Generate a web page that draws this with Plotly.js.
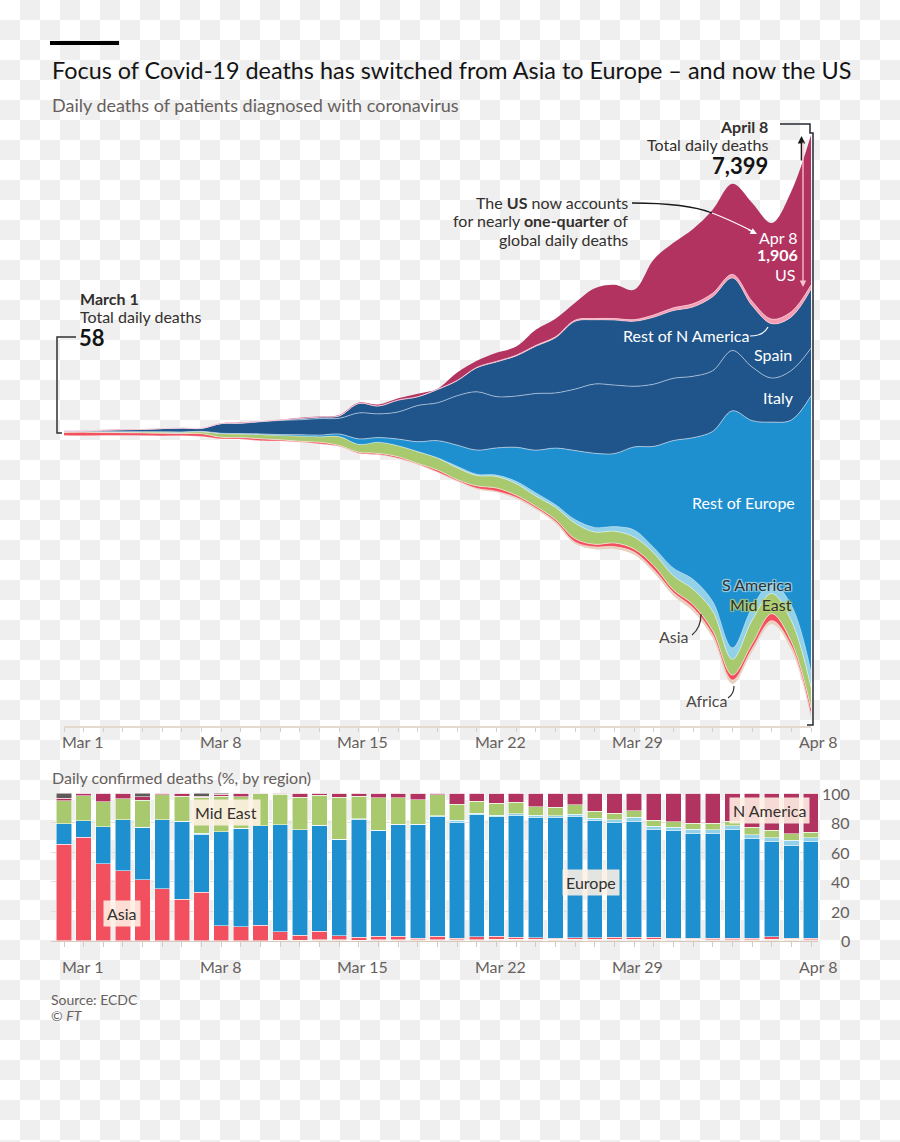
<!DOCTYPE html>
<html><head><meta charset="utf-8">
<script src="https://cdn.plot.ly/plotly-3.0.1.min.js"></script>
<style>
html,body{margin:0;padding:0;}
body{width:900px;height:1142px;background-color:#fff;background-image:conic-gradient(#efefef 0 25%, #fff 0 50%, #efefef 0 75%, #fff 0);background-size:40px 40px;}
#chart{width:900px;height:1142px;}
</style></head><body><div id="chart"></div><script>
// ---------------- DATA (daily deaths) ----------------
const dates = ['2020-03-01','2020-03-02','2020-03-03','2020-03-04','2020-03-05','2020-03-06','2020-03-07','2020-03-08','2020-03-09','2020-03-10',
  '2020-03-11','2020-03-12','2020-03-13','2020-03-14','2020-03-15','2020-03-16','2020-03-17','2020-03-18','2020-03-19','2020-03-20',
  '2020-03-21','2020-03-22','2020-03-23','2020-03-24','2020-03-25','2020-03-26','2020-03-27','2020-03-28','2020-03-29','2020-03-30',
  '2020-03-31','2020-04-01','2020-04-02','2020-04-03','2020-04-04','2020-04-05','2020-04-06','2020-04-07','2020-04-08'];
const us         = [1,1,4,3,2,1,2,1,3,5,1,2,8,5,10,11,18,22,37,8,100,85,110,110,200,230,220,385,430,380,705,825,950,1060,1150,1250,1220,1530,1906];
const restNAm    = [0,0,0,0,0,0,0,0,0,0,0,0,0,0,1,1,1,1,2,1,4,5,7,8,10,12,15,15,19,20,28,34,40,44,45,55,57,65,50];
const spain      = [0,0,0,0,0,0,0,3,3,4,5,6,17,20,30,120,100,150,110,170,190,305,440,510,600,700,860,815,825,825,850,860,880,940,920,780,690,680,750];
const italy      = [8,6,18,27,28,41,49,36,122,130,155,180,189,210,200,330,300,345,460,480,627,740,651,650,720,700,780,880,870,770,790,790,780,770,766,681,560,630,604];
const restEurope = [0,1,0,0,1,3,4,3,3,5,8,10,16,21,32,69,59,83,124,216,267,305,343,431,540,717,876,940,926,1053,1282,1618,1796,2157,3008,2373,2043,2348,3499];
const sAmerica   = [0,0,0,0,0,0,0,1,0,0,0,0,0,0,0,1,1,2,3,5,21,18,19,30,41,35,46,59,59,90,70,99,127,126,145,163,133,199,200];
const midEast    = [9,11,12,11,15,16,17,26,48,44,54,56,68,71,113,101,142,139,150,152,150,131,147,147,130,154,197,156,149,151,160,177,194,246,200,300,255,264,265];
const asia       = [38,45,37,37,34,33,28,35,20,20,26,15,10,20,11,13,15,19,8,24,15,30,40,27,22,25,40,32,45,40,50,34,42,50,63,56,88,53,80];
const africa     = [0,0,0,0,0,0,0,0,0,0,0,1,1,2,2,3,4,5,6,8,10,12,15,18,20,22,25,30,32,35,38,40,42,44,50,44,44,52,45];
const other      = [2,0,0,0,2,0,0,2,1,0,0,0,0,0,0,0,0,0,0,0,0,0,0,0,0,0,0,0,0,0,0,0,0,0,0,0,0,0,0];
const tickDates  = ['2020-03-01','2020-03-08','2020-03-15','2020-03-22','2020-03-29','2020-04-08'];
const tickLabels = ['Mar 1','Mar 8','Mar 15','Mar 22','Mar 29','Apr 8'];
const pctTicks   = [0,20,40,60,80,100];

// ---------------- helpers ----------------
const W = 900, H = 1142, FONT = 'Lato, "Noto Sans", sans-serif';
const px = x => x / W, py = y => 1 - y / H;
const P = (x, y) => `${px(x)},${py(y)}`;
const DAY = 86400000, t0 = Date.parse(dates[0] + 'T00:00:00Z');
const X0 = 64, XN = 811, PXDAY = (XN - X0) / (dates.length - 1);
const fmt = ms => new Date(ms).toISOString().replace('T', ' ').replace('Z', '');
const dateAtPx = x => fmt(t0 + (x - X0) / PXDAY * DAY);

// stream layers, bottom to top
const stream = [
  {v: other, c: '#5e5a57', l: 'rgba(0,0,0,0)'},
  {v: africa, c: '#e8d0bd', l: 'rgba(255,255,255,0.4)'},
  {v: asia, c: '#f2505e', l: 'rgba(255,235,235,0.7)'},
  {v: midEast, c: '#a9c96e', l: 'rgba(255,255,255,0.5)'},
  {v: sAmerica, c: '#92d1e8', l: 'rgba(255,255,255,0.3)'},
  {v: restEurope, c: '#1e8fcf', l: 'rgba(210,225,240,0.75)'},
  {v: italy, c: '#20558b', l: 'rgba(200,215,235,0.75)'},
  {v: spain, c: '#20558b', l: 'rgba(255,220,230,0.6)'},
  {v: restNAm, c: '#f59db3', l: 'rgba(255,210,220,0.9)'},
  {v: us, c: '#b23360', l: 'rgba(0,0,0,0)'}
];
// d3-style "wiggle" stream offset
function wiggle(layers) {
  const n = layers.length, m = layers[0].length, base = [0];
  let y = 0;
  for (let j = 1; j < m; j++) {
    let s1 = 0, s2 = 0;
    for (let i = 0; i < n; i++) {
      const a = layers[i][j], b = layers[i][j - 1];
      let s3 = (a - b) / 2;
      for (let k = 0; k < i; k++) s3 += layers[k][j] - layers[k][j - 1];
      s1 += a; s2 += s3 * a;
    }
    if (s1) y -= s2 / s1;
    base.push(y);
  }
  return base;
}
const base = wiggle(stream.map(s => s.v));
const traces = [{x: dates, y: base.slice(), type: 'scatter', mode: 'lines', line: {width: 0, shape: 'spline', smoothing: 1}, hoverinfo: 'skip', xaxis: 'x', yaxis: 'y'}];
let cum = base.slice();
stream.forEach(s => {
  cum = cum.map((v, i) => v + s.v[i]);
  traces.push({x: dates, y: cum.slice(), type: 'scatter', mode: 'lines', fill: 'tonexty', fillcolor: s.c,
    line: {width: 0.9, color: s.l, shape: 'spline', smoothing: 1}, hoverinfo: 'skip', xaxis: 'x', yaxis: 'y'});
});
const last = dates.length - 1;
const total = cum[last] - base[last];
const SC = total / (718 - 135);              // deaths per pixel
const yAt = p => base[last] + (718 - p) * SC;  // bottom of last day at 718px

// bars
const europe = italy.map((v, i) => v + spain[i] + restEurope[i]);
const nAmerica = us.map((v, i) => v + restNAm[i]);
[[africa, '#e8d0bd'], [asia, '#f2505e'], [europe, '#1e8fcf'], [sAmerica, '#92d1e8'],
 [midEast, '#a9c96e'], [nAmerica, '#b23360'], [other, '#5e5a57']].forEach(([v, c]) => {
  traces.push({x: dates, y: v, type: 'bar', xaxis: 'x2', yaxis: 'y2', hoverinfo: 'skip',
    marker: {color: c, line: {width: 0.7, color: 'rgba(255,255,255,0.75)'}}});
});

// ---------------- annotations ----------------
const dark = '#33302e', grey = '#66605c';
const A = [];
function txt(text, x, y, o = {}) {
  A.push(Object.assign({xref: 'paper', yref: 'paper', x: px(x), y: py(y), text, showarrow: false,
    xanchor: 'left', yanchor: 'middle', font: {family: FONT, size: 16, color: dark}}, o));
}
txt('Focus of Covid-19 deaths has switched from Asia to Europe \u2013 and now the US', 50, 70, {font: {family: FONT, size: 23.4, color: '#141414'}});
txt('Daily deaths of patients diagnosed with coronavirus', 50, 105, {font: {family: FONT, size: 18, color: grey}});
txt('<b>March 1</b>', 78, 298);
txt('Total daily deaths', 78, 316);
txt('<b>58</b>', 77, 337, {font: {family: FONT, size: 22, color: '#141414'}});
txt('<b>April 8</b>', 770, 126, {xanchor: 'right'});
txt('Total daily deaths', 770, 144, {xanchor: 'right'});
txt('<b>7,399</b>', 770, 166, {xanchor: 'right', font: {family: FONT, size: 22, color: '#141414'}});
txt('The <b>US</b> now accounts', 630, 202, {xanchor: 'right'});
txt('for nearly <b>one-quarter</b> of', 630, 221, {xanchor: 'right'});
txt('global daily deaths', 630, 239, {xanchor: 'right'});
const white = {family: FONT, size: 16, color: '#ffffff'};
txt('Apr 8', 800, 237, {xanchor: 'right', font: white});
txt('<b>1,906</b>', 800, 255, {xanchor: 'right', font: white});
txt('US', 797, 275, {xanchor: 'right', font: white});
txt('Rest of N America', 686, 335, {xanchor: 'center', font: white});
txt('Spain', 794, 354, {xanchor: 'right', font: white});
txt('Italy', 796, 398, {xanchor: 'right', font: white});
txt('Rest of Europe', 797, 502, {xanchor: 'right', font: white});
const glow = c => `1px 1px 1px ${c}, -1px -1px 1px ${c}, 1px -1px 1px ${c}, -1px 1px 1px ${c}`;
txt('S America', 794, 584, {xanchor: 'right', font: {family: FONT, size: 16, color: dark, shadow: glow('#9ad6ec')}});
txt('Mid East', 794, 604, {xanchor: 'right', font: {family: FONT, size: 16, color: dark, shadow: glow('#b5d37a')}});
txt('Asia', 691, 636, {xanchor: 'right', font: {family: FONT, size: 16, color: '#4e4946'}});
txt('Africa', 729, 700, {xanchor: 'right', font: {family: FONT, size: 16, color: '#4e4946'}});
// axis tick labels
tickDates.forEach((d, i) => {
  const isLast = i === tickDates.length - 1;
  [['x', 741], ['x2', 966]].forEach(([xr, yy]) => {
    A.push({xref: xr, yref: 'paper', x: d, y: py(yy), text: tickLabels[i], showarrow: false,
      xanchor: isLast ? 'center' : 'left', xshift: isLast ? 7 : -4, yanchor: 'middle',
      font: {family: FONT, size: 16, color: grey}});
  });
});
pctTicks.forEach(v => A.push({xref: 'paper', yref: 'y2', x: px(852), y: v, text: String(v), showarrow: false,
  xanchor: 'right', yanchor: 'middle', font: {family: FONT, size: 16, color: grey}}));
txt('Daily confirmed deaths (%, by region)', 50, 777, {font: {family: FONT, size: 16, color: grey}});
const box = {bgcolor: 'rgba(255,241,229,0.88)', borderpad: 3};
txt('Mid East', 226, 812, Object.assign({xanchor: 'center'}, box));
txt('Asia', 122, 913, Object.assign({xanchor: 'center'}, box));
txt('Europe', 591, 882, Object.assign({xanchor: 'center'}, box));
txt('N America', 769, 810, Object.assign({xanchor: 'center'}, box));
txt('Source: ECDC', 49, 999, {font: {family: FONT, size: 14, color: grey}});
txt('\u00a9 <i>FT</i>', 49, 1015, {font: {family: FONT, size: 14, color: grey}});
// arrows
A.push({xref: 'paper', yref: 'paper', x: px(801.5), y: py(136), ax: 0, ay: 26, text: '', showarrow: true,
  arrowhead: 2, arrowsize: 1, arrowwidth: 1.5, arrowcolor: '#1a1a1a'});
A.push({xref: 'paper', yref: 'paper', x: px(803), y: py(287), ax: 0, ay: -146, text: '', showarrow: true,
  arrowhead: 2, arrowsize: 1, arrowwidth: 1.3, arrowcolor: '#f7c6d1'});
A.push({xref: 'paper', yref: 'paper', x: px(757), y: py(234), ax: -10, ay: -5, text: '', showarrow: true,
  arrowhead: 2, arrowsize: 1, arrowwidth: 1.3, arrowcolor: '#ffffff'});

// ---------------- shapes ----------------
const S = [];
const path = (d, color, w) => S.push({type: 'path', xref: 'paper', yref: 'paper', path: d, line: {color, width: w}});
S.push({type: 'rect', xref: 'paper', yref: 'paper', x0: px(50), x1: px(119), y0: py(45), y1: py(41), fillcolor: '#000', line: {width: 0}});
path(`M${P(76,337)} L${P(57,337)} L${P(57,433)} L${P(62,433)}`, '#33302e', 1.5);
path(`M${P(780,124)} L${P(810,124)} L${P(810,133)} L${P(813,133)} L${P(813,725)} L${P(807,725)}`, '#262a33', 1.5);
path(`M${P(632,203)} C${P(662,203)} ${P(692,205)} ${P(712,213)}`, '#1a1a1a', 1.3);
path(`M${P(712,213)} C${P(728,219)} ${P(740,225)} ${P(752,231)}`, '#ffffff', 1.3);
path(`M${P(750,336)} C${P(758,336)} ${P(765,333)} ${P(768,327)}`, '#ffffff', 1.2);
path(`M${P(692,635)} C${P(697,631)} ${P(701,624)} ${P(701,614)}`, '#33302e', 1.2);
path(`M${P(728,698)} C${P(731,696)} ${P(734,692)} ${P(734,686)}`, '#33302e', 1.2);

const layout = {
  width: W, height: H, margin: {l: 0, r: 0, t: 0, b: 0}, showlegend: false,
  paper_bgcolor: 'rgba(0,0,0,0)', plot_bgcolor: 'rgba(0,0,0,0)', font: {family: FONT},
  barmode: 'stack', barnorm: 'percent', bargap: 0.22,
  xaxis: {type: 'date', domain: [px(X0), px(XN)], range: [dates[0], dates[last]], anchor: 'y',
    showline: true, linecolor: '#e6d9ce', linewidth: 1.5, ticks: 'outside', ticklen: 4, tickcolor: '#d9cdc2',
    tick0: dates[0], dtick: DAY, showticklabels: false, showgrid: false, zeroline: false},
  yaxis: {domain: [py(726), py(100)], range: [yAt(726), yAt(100)], visible: false, fixedrange: true},
  xaxis2: {type: 'date', domain: [px(51), px(818)], range: [dateAtPx(51), dateAtPx(818)], anchor: 'y2',
    showline: true, linecolor: '#d6cabf', linewidth: 1.5, ticks: 'outside', ticklen: 5, tickcolor: '#d6cabf',
    tick0: dates[0], dtick: DAY, showticklabels: false, showgrid: false, zeroline: false},
  yaxis2: {domain: [py(940.7), py(793.3)], range: [0, 100], anchor: 'x2', tickvals: pctTicks, showticklabels: false,
    gridcolor: '#e8ddd3', gridwidth: 1.2, zeroline: false, showline: false, ticks: ''},
  annotations: A, shapes: S
};
Plotly.newPlot('chart', traces, layout, {staticPlot: true, displayModeBar: false});
</script></body></html>
